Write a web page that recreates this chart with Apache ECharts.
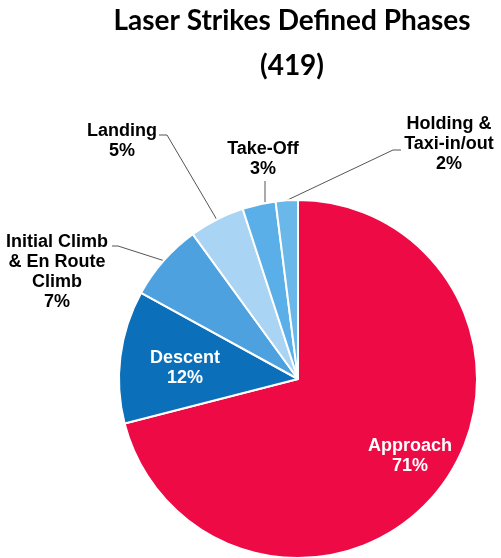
<!DOCTYPE html>
<html>
<head>
<meta charset="utf-8">
<script src="https://cdn.jsdelivr.net/npm/echarts@6/dist/echarts.min.js"></script>
<style>
  html, body { margin: 0; padding: 0; background: #fff; }
  #chart { width: 501px; height: 558px; }
</style>
</head>
<body>
<div id="chart"></div>
<script>
// Flight phases of reported laser strikes (share of 419 reports, %)
const categories = [
  'Approach',
  'Descent',
  'Initial Climb\n& En Route\nClimb',
  'Landing',
  'Take-Off',
  'Holding &\nTaxi-in/out'
];
const shares = [71, 12, 7, 5, 3, 2];
const sliceColors = ['#ED0A45', '#0B6FBA', '#4DA1DF', '#A9D4F4', '#5AAFE8', '#6AB7EA'];
const totalReports = 419;

// Centre of each label block, plus the bend and end of its leader line
const labelSpots = {
  'Approach': { x: 410, y: 456 },
  'Descent': { x: 185, y: 368 },
  'Initial Climb\n& En Route\nClimb': { x: 57, y: 272, bend: [118, 246], end: [112, 246] },
  'Landing': { x: 122, y: 141, bend: [167, 135], end: [159, 135] },
  'Take-Off': { x: 263, y: 159, vertical: true, end: [265, 181] },
  'Holding &\nTaxi-in/out': { x: 449, y: 144, bend: [393, 150], end: [401, 150] }
};

const insideNames = ['Approach', 'Descent'];

const chart = echarts.init(document.getElementById('chart'), null, { renderer: 'canvas' });

const labelFont = {
  fontFamily: '"Liberation Sans", Arial, sans-serif',
  fontWeight: 'bold',
  fontSize: 18,
  lineHeight: 20
};

const titleFont = {
  fontFamily: 'Lato, "Open Sans", sans-serif',
  fontWeight: 'bold',
  fontSize: 28,
  lineHeight: 32,
  color: '#000'
};

chart.setOption({
  animation: false,
  backgroundColor: '#ffffff',
  title: {
    text: 'Laser Strikes Defined Phases',
    subtext: '(' + totalReports + ')',
    left: 287,
    top: 0,
    textAlign: 'center',
    itemGap: 13,
    textStyle: titleFont,
    subtextStyle: titleFont
  },
  series: [{
    type: 'pie',
    center: [298, 379],
    radius: 179,
    startAngle: 90,
    clockwise: true,
    avoidLabelOverlap: false,
    itemStyle: { borderColor: '#ffffff', borderWidth: 2 },
    label: Object.assign({
      show: true,
      position: 'outside',
      color: '#000',
      align: 'center',
      formatter: '{b}\n{c}%'
    }, labelFont),
    labelLine: {
      show: true,
      lineStyle: { color: '#555', width: 1 }
    },
    labelLayout: function (params) {
      const name = categories[params.dataIndex];
      const spot = labelSpots[name];
      const out = { x: spot.x, y: spot.y, align: 'center', verticalAlign: 'middle' };
      if (spot.end && params.labelLinePoints) {
        const start = params.labelLinePoints[0];
        if (spot.vertical) {
          // straight drop from the label down to the rim
          const rimX = spot.end[0];
          out.labelLinePoints = [[rimX, start[1] - 2], [rimX, spot.end[1] + 5], spot.end];
        } else {
          out.labelLinePoints = [start, spot.bend, spot.end];
        }
      }
      return out;
    },
    data: categories.map(function (name, i) {
      const item = {
        name: name,
        value: shares[i],
        itemStyle: { color: sliceColors[i] }
      };
      if (insideNames.indexOf(name) >= 0) {
        item.label = { position: 'inside', color: '#fff' };
        item.labelLine = { show: false };
      }
      return item;
    })
  }]
});
</script>
</body>
</html>
